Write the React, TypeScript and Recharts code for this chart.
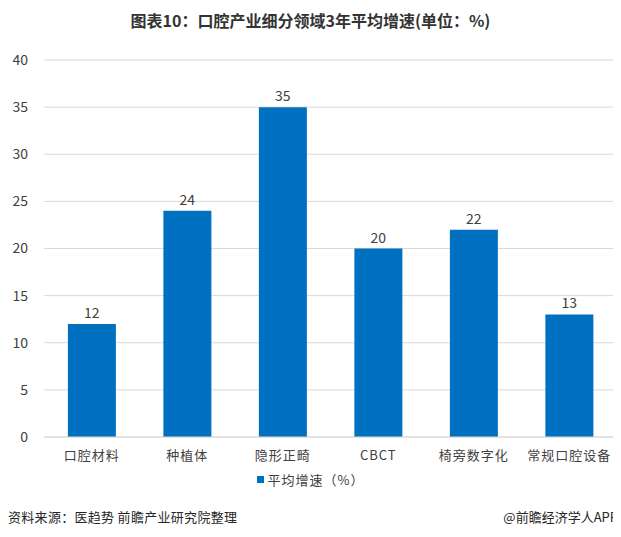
import { BarChart, Bar, XAxis, YAxis, CartesianGrid, LabelList } from 'recharts'

const categories = ['口腔材料', '种植体', '隐形正畸', 'CBCT', '椅旁数字化', '常规口腔设备']
const growthValues = [12, 24, 35, 20, 22, 13]
const yTicks = [0, 5, 10, 15, 20, 25, 30, 35, 40]

const data = categories.map((name, i) => ({ name, value: growthValues[i] }))

const FONT = '"Noto Sans CJK SC", "Noto Sans", sans-serif'
const BLUE = '#0070C0'

export default function App() {
    return (
        <div
            style={{
                position: 'relative',
                width: 621,
                height: 537,
                margin: -8,
                background: '#fff',
                fontFamily: FONT,
                overflow: 'hidden',
            }}
        >
            <div
                style={{
                    position: 'absolute',
                    top: 8,
                    left: 0,
                    width: 621,
                    textAlign: 'center',
                    fontSize: 16,
                    fontWeight: 'bold',
                    color: '#333',
                    whiteSpace: 'nowrap',
                }}
            >
                图表10：口腔产业细分领域3年平均增速(单位：%)
            </div>
            <div style={{ position: 'absolute', top: 0, left: 0 }}>
                <BarChart
                    width={621}
                    height={537}
                    data={data}
                    margin={{ top: 60, right: 4, left: 0, bottom: 70 }}
                    barCategoryGap="25%"
                >
                    <CartesianGrid vertical={false} stroke="#d9d9d9" />
                    <XAxis
                        dataKey="name"
                        height={30}
                        axisLine={{ stroke: '#d9d9d9' }}
                        tickLine={false}
                        tick={{ fill: '#404040', fontSize: 13, fontFamily: FONT, letterSpacing: 1 }}
                        interval={0}
                        tickMargin={8}
                    />
                    <YAxis
                        width={44}
                        domain={[0, 40]}
                        ticks={yTicks}
                        axisLine={false}
                        tickLine={false}
                        tick={{ fill: '#404040', fontSize: 14, fontFamily: FONT }}
                        tickMargin={10}
                    />
                    <Bar dataKey="value" fill={BLUE} isAnimationActive={false}>
                        <LabelList dataKey="value" position="top" fill="#404040" fontSize={14} offset={6} />
                    </Bar>
                </BarChart>
            </div>
            <div
                style={{
                    position: 'absolute',
                    top: 470,
                    left: 0,
                    width: 621,
                    display: 'flex',
                    justifyContent: 'center',
                    alignItems: 'center',
                    fontSize: 13,
                    color: '#404040',
                    letterSpacing: 1,
                }}
            >
                <span style={{ width: 7, height: 7, background: BLUE, marginRight: 4, display: 'inline-block' }} />
                平均增速（%）
            </div>
            <div
                style={{
                    position: 'absolute',
                    top: 507,
                    left: 8,
                    fontSize: 13,
                    color: '#262626',
                    whiteSpace: 'nowrap',
                    letterSpacing: 0.3,
                }}
            >
                资料来源：医趋势 前瞻产业研究院整理
            </div>
            <div
                style={{
                    position: 'absolute',
                    top: 507,
                    left: 480,
                    width: 138,
                    textAlign: 'right',
                    fontSize: 13,
                    color: '#262626',
                    whiteSpace: 'nowrap',
                }}
            >
                @前瞻经济学人APP
            </div>
        </div>
    )
}
